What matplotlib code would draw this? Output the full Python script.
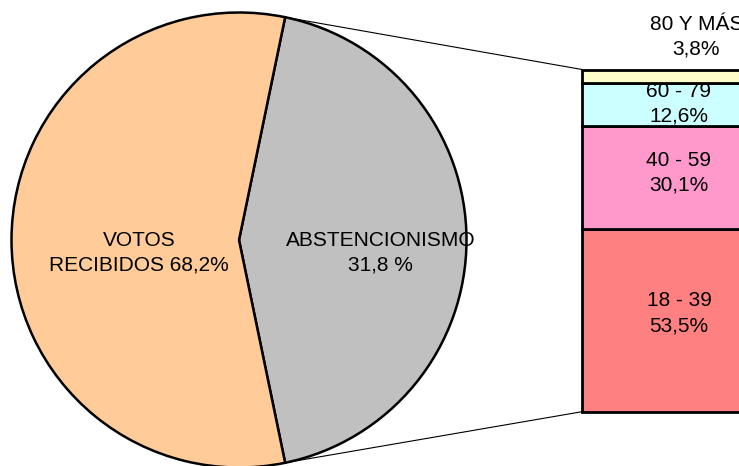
import numpy as np
import matplotlib.pyplot as plt
from matplotlib.patches import ConnectionPatch

plt.rcParams['font.family'] = ['Liberation Sans', 'DejaVu Sans']

# pie: share of the circle as drawn in the picture
pie_names = ['ABSTENCIONISMO\n31,8 %', 'VOTOS\nRECIBIDOS 68,2%']
pie_sizes = [43.5, 56.5]
pie_colors = ['#C0C0C0', '#FFCC99']

# bar: age groups of the abstention, bottom to top
ages = ['18 - 39', '40 - 59', '60 - 79', '80 Y MÁS']
age_pct = [53.5, 30.1, 12.6, 3.8]
age_lbl = ['53,5%', '30,1%', '12,6%', '3,8%']
age_colors = ['#FF8080', '#FF99CC', '#CCFFFF', '#FFFFCC']

W, H = 739, 466
fig = plt.figure(figsize=(W / 100, H / 100), dpi=100)

def px_axes(left, top, right, bottom):
    return fig.add_axes([left / W, (H - bottom) / H, (right - left) / W, (bottom - top) / H])

LS = 1.38

# pie
ax = px_axes(11.5, 12.5, 466.5, 467.5)
start = -0.5 * pie_sizes[0] / 100 * 360
wedges, _ = ax.pie(pie_sizes, colors=pie_colors, startangle=start, counterclock=True,
                   wedgeprops=dict(edgecolor='black', linewidth=1.8))
for w in wedges:
    w.set_clip_on(False)
ax.set_xlim(-1, 1)
ax.set_ylim(-1, 1)
ax.axis('off')
ax.text(0.621, -0.055, pie_names[0], ha='center', va='center', fontsize=15, linespacing=LS)
ax.text(-0.438, -0.055, pie_names[1], ha='center', va='center', fontsize=15, linespacing=LS)

# bar of the split slice
bx = px_axes(582, 69.5, 776, 411.7)
bottoms = np.concatenate([[0], np.cumsum(age_pct)[:-1]])
bars = bx.bar(0.5, age_pct, width=1, bottom=bottoms, color=age_colors,
              edgecolor='black', linewidth=2)
for b in bars:
    b.set_clip_on(False)
bx.set_xlim(0, 1)
bx.set_ylim(0, 100)
bx.axis('off')
nudge = [5, 3, 0]  # points upward, as placed in the original
for i in range(3):
    bx.annotate(ages[i] + '\n' + age_lbl[i], (0.5, bottoms[i] + age_pct[i] / 2),
                xytext=(0, nudge[i]), textcoords='offset points',
                ha='center', va='center', fontsize=15, linespacing=LS)
bx.text(0.59, 109.5, ages[3] + '\n' + age_lbl[3], ha='center', va='center',
        fontsize=15, linespacing=LS, clip_on=False)

# connector lines
ang = np.deg2rad(start + pie_sizes[0] / 100 * 360)
for xy_a, xy_b in [((np.cos(ang), np.sin(ang)), (0, 100)),
                   ((np.cos(ang), -np.sin(ang)), (0, 0))]:
    con = ConnectionPatch(xyA=xy_a, coordsA=ax.transData, xyB=xy_b, coordsB=bx.transData,
                          color='black', linewidth=0.8)
    fig.add_artist(con)

fig.savefig('out.png', dpi=100)
